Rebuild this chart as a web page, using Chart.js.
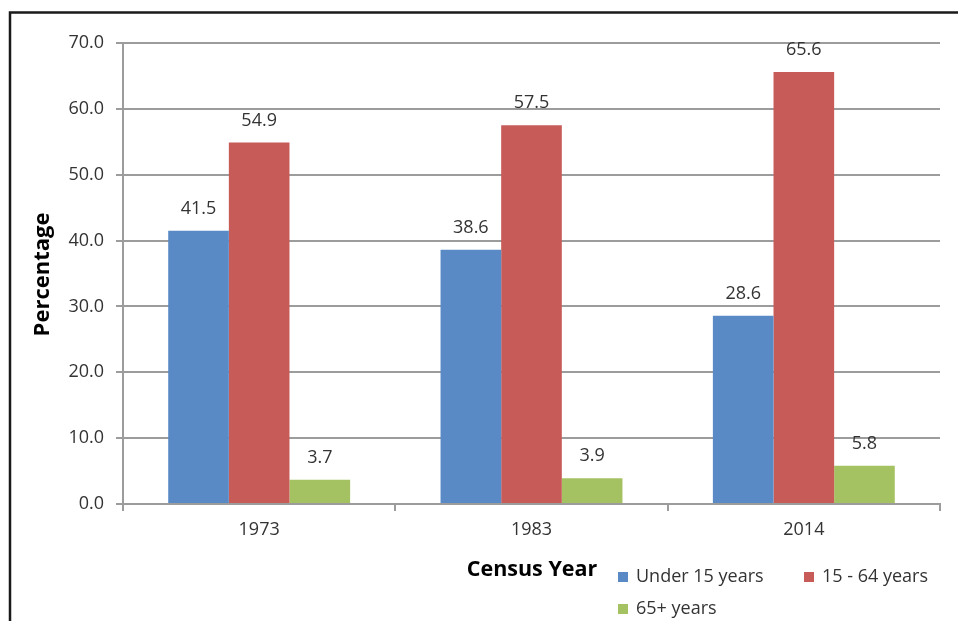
<!DOCTYPE html>
<html>
<head>
<meta charset="utf-8">
<script src="https://cdn.jsdelivr.net/npm/chart.js@4.4.0/dist/chart.umd.min.js"></script>
<style>
html,body{margin:0;padding:0;background:#fff;}
canvas{display:block;}
</style>
</head>
<body>
<canvas id="c" width="958" height="621"></canvas>
<script>
const categories = ["1973", "1983", "2014"];
const under15 = [41.5, 38.6, 28.6];
const age15to64 = [54.9, 57.5, 65.6];
const age65plus = [3.7, 3.9, 5.8];
const seriesNames = ["Under 15 years", "15 - 64 years", "65+ years"];
const seriesColors = ["#5A8AC6", "#C75B58", "#A5C263"];
const yTitle = "Percentage";
const xTitle = "Census Year";

const FONT = "'Open Sans', 'DejaVu Sans', sans-serif";
const TEXT = "#333333";
const GRID = "#9C9C9C";

const decorPlugin = {
  id: 'decor',
  afterDatasetsDraw(chart) {
    const ctx = chart.ctx;
    ctx.save();
    ctx.font = "18px " + FONT;
    ctx.fillStyle = TEXT;
    ctx.textAlign = "center";
    ctx.textBaseline = "middle";
    chart.data.datasets.forEach((ds, i) => {
      const meta = chart.getDatasetMeta(i);
      meta.data.forEach((bar, j) => {
        ctx.fillText(ds.data[j].toFixed(1), bar.x, bar.y - 22);
      });
    });
    ctx.restore();
  },
  afterDraw(chart) {
    const ctx = chart.ctx;
    const area = chart.chartArea;
    ctx.save();
    ctx.strokeStyle = "#1a1a1a";
    ctx.lineWidth = 2.5;
    ctx.strokeRect(10, 12.5, 960, 640);
    ctx.fillStyle = "#000";
    ctx.textAlign = "center";
    ctx.textBaseline = "middle";
    ctx.font = "bold 22px " + FONT;
    ctx.save();
    ctx.translate(43, (area.top + area.bottom) / 2 + 1);
    ctx.rotate(-Math.PI / 2);
    ctx.fillText(yTitle, 0, 0);
    ctx.restore();
    ctx.font = "bold 21.5px " + FONT;
    ctx.fillText(xTitle, 532, 570);
    const items = [
      {x: 618, y: 577},
      {x: 804, y: 577},
      {x: 618, y: 609}
    ];
    ctx.font = "18px " + FONT;
    ctx.textAlign = "left";
    chart.data.datasets.forEach((ds, i) => {
      const it = items[i];
      ctx.fillStyle = ds.backgroundColor;
      ctx.fillRect(it.x, it.y - 5, 10, 10);
      ctx.fillStyle = TEXT;
      ctx.fillText(ds.label, it.x + 18, it.y);
    });
    ctx.restore();
  }
};

new Chart(document.getElementById('c'), {
  type: 'bar',
  data: {
    labels: categories,
    datasets: [
      {label: seriesNames[0], data: under15, backgroundColor: seriesColors[0]},
      {label: seriesNames[1], data: age15to64, backgroundColor: seriesColors[1]},
      {label: seriesNames[2], data: age65plus, backgroundColor: seriesColors[2]}
    ]
  },
  options: {
    responsive: false,
    animation: false,
    devicePixelRatio: 1,
    categoryPercentage: 0.668,
    barPercentage: 1,
    layout: {padding: {left: 0, right: 18, top: 43, bottom: 0}},
    plugins: {legend: {display: false}, tooltip: {enabled: false}},
    scales: {
      x: {
        afterFit: s => { s.height = 117; },
        grid: {display: true, drawOnChartArea: false, offset: true, color: GRID, lineWidth: 2, tickLength: 7, tickColor: GRID},
        border: {display: true, color: GRID, width: 2},
        ticks: {font: {family: FONT, size: 18}, color: TEXT, padding: 8}
      },
      y: {
        min: 0, max: 70,
        afterFit: s => { s.width = 123; },
        ticks: {stepSize: 10, font: {family: FONT, size: 18}, color: TEXT, padding: 12,
          callback: v => Number(v).toFixed(1)},
        grid: {color: GRID, lineWidth: 2, tickLength: 7, tickColor: GRID},
        border: {display: true, color: GRID, width: 2}
      }
    }
  },
  plugins: [decorPlugin]
});
</script>
</body>
</html>
